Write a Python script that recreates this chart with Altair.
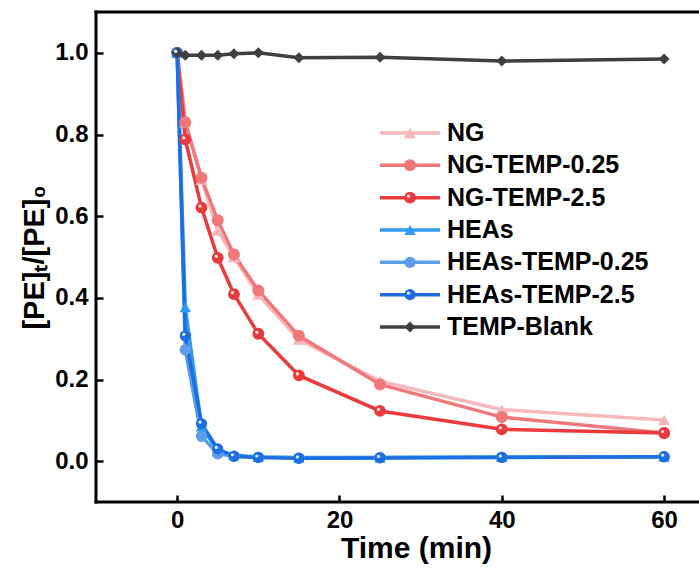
import altair as alt
import pandas as pd

# ---------------- data ----------------
time_min = [0, 1, 3, 5, 7, 10, 15, 25, 40, 60]
series_names = ["NG", "NG-TEMP-0.25", "NG-TEMP-2.5", "HEAs",
                "HEAs-TEMP-0.25", "HEAs-TEMP-2.5", "TEMP-Blank"]
ng = [1.0, 0.83, 0.69, 0.565, 0.50, 0.408, 0.298, 0.196, 0.126, 0.101]
ng_temp_025 = [1.0, 0.83, 0.694, 0.590, 0.506, 0.418, 0.307, 0.188, 0.108, 0.069]
ng_temp_25 = [1.0, 0.788, 0.621, 0.498, 0.409, 0.312, 0.210, 0.123, 0.078, 0.069]
heas = [1.0, 0.377, 0.085, 0.025, 0.015, 0.010, 0.009, 0.009, 0.010, 0.011]
heas_temp_025 = [1.0, 0.273, 0.061, 0.018, 0.012, 0.010, 0.008, 0.009, 0.010, 0.011]
heas_temp_25 = [1.0, 0.307, 0.092, 0.030, 0.012, 0.009, 0.007, 0.008, 0.009, 0.011]
temp_blank = [1.0, 0.994, 0.994, 0.994, 0.998, 1.0, 0.988, 0.989, 0.980, 0.985]
series_values = [ng, ng_temp_025, ng_temp_25, heas, heas_temp_025, heas_temp_25, temp_blank]
x_ticks = [0, 20, 40, 60]
y_ticks = [0.0, 0.2, 0.4, 0.6, 0.8, 1.0]
highlighted = ["NG-TEMP-2.5", "HEAs-TEMP-2.5"]

# ---------------- styles ----------------
colors = ["#F8B8BA", "#F0787A", "#E93B3E", "#2F9BF2", "#5E9DEA", "#1C6FE0", "#3F3F3F"]
shapes = ["triangle-up", "circle", "circle", "triangle-up", "circle", "circle", "diamond"]
sizes = [150, 120, 120, 150, 120, 120, 150]

rows = []
for name, vals in zip(series_names, series_values):
    for t, v in zip(time_min, vals):
        rows.append({"series": name, "time": t, "value": v})
df = pd.DataFrame(rows)

W, H = 603, 490
FONT = "Liberation Sans, Arial, sans-serif"

color_scale = alt.Scale(domain=series_names, range=colors)
shape_scale = alt.Scale(domain=series_names, range=shapes)
size_scale = alt.Scale(domain=series_names, range=sizes)

x_enc = alt.X(
    "time:Q",
    scale=alt.Scale(domain=[-10, 64.3], nice=False, zero=False),
    axis=alt.Axis(values=x_ticks, title="Time (min)", domain=False, grid=False,
                  offset=-7, tickSize=7, tickWidth=2.5, tickColor="black",
                  labelPadding=6, labelFont=FONT, labelFontSize=24,
                  labelFontWeight="bold", labelColor="black",
                  titleFont=FONT, titleFontSize=30, titleFontWeight="bold",
                  titleColor="black", titlePadding=1, titleX=320),
)
y_enc = alt.Y(
    "value:Q",
    scale=alt.Scale(domain=[-0.1, 1.1], nice=False, zero=False),
    axis=alt.Axis(values=y_ticks, format=".1f", title="[PE]ₜ/[PE]₀", domain=False,
                  grid=False, offset=-7, tickSize=7, tickWidth=2.5, tickColor="black",
                  labelPadding=8, labelFont=FONT, labelFontSize=24,
                  labelFontWeight="bold", labelColor="black",
                  titleFont=FONT, titleFontSize=29, titleFontWeight="bold",
                  titleColor="black", titlePadding=5),
)
color_enc = alt.Color("series:N", scale=color_scale, legend=None)
shape_enc = alt.Shape("series:N", scale=shape_scale, legend=None)
size_enc = alt.Size("series:N", scale=size_scale, legend=None)

base = alt.Chart(df).encode(x=x_enc, y=y_enc, color=color_enc)
lines = base.mark_line(strokeWidth=3.5)
points = base.mark_point(filled=True, opacity=1).encode(shape=shape_enc, size=size_enc)
hl = base.transform_filter(
    alt.FieldOneOfPredicate(field="series", oneOf=highlighted)
).mark_point(filled=True, opacity=0.9, size=10, xOffset=-1.5, yOffset=-1.5).encode(
    color=alt.value("white"))

frame_df = pd.DataFrame({"k": [0]})
frame_top = alt.Chart(frame_df).mark_rule(color="black", strokeWidth=3, strokeCap="square").encode(
    x=alt.value(0), x2=alt.value(W), y=alt.value(0))
frame_left = alt.Chart(frame_df).mark_rule(color="black", strokeWidth=3, strokeCap="square").encode(
    x=alt.value(0), y=alt.value(0), y2=alt.value(H))
frame_bottom = alt.Chart(frame_df).mark_rule(color="black", strokeWidth=3, strokeCap="square").encode(
    x=alt.value(0), x2=alt.value(W), y=alt.value(H))

main = alt.layer(lines, points, hl, frame_top, frame_left, frame_bottom)

# ---------------- custom legend ----------------
leg_df = pd.DataFrame({"series": series_names})
ly = alt.Y("series:N", scale=alt.Scale(type="point", domain=series_names,
                                       range=[121, 315], padding=0), axis=None)
leg_rule = alt.Chart(leg_df).mark_rule(strokeWidth=3.5).encode(
    x=alt.value(284), x2=alt.value(344), y=ly, color=color_enc)
leg_pts = alt.Chart(leg_df).mark_point(filled=True, opacity=1).encode(
    x=alt.value(314), y=ly, color=color_enc, shape=shape_enc, size=size_enc)
leg_hl = alt.Chart(leg_df).transform_filter(
    alt.FieldOneOfPredicate(field="series", oneOf=highlighted)
).mark_point(filled=True, opacity=0.9, size=10, xOffset=-1.5, yOffset=-1.5).encode(
    x=alt.value(314), y=ly, color=alt.value("white"))
leg_txt = alt.Chart(leg_df).mark_text(
    align="left", baseline="middle", font=FONT, fontSize=25, fontWeight="bold",
    color="black").encode(x=alt.value(351), y=ly, text="series:N")
legend = alt.layer(leg_rule, leg_pts, leg_hl, leg_txt)

chart = alt.layer(main, legend).resolve_scale(y="independent").properties(
    width=W, height=H,
    padding={"left": 96, "top": 12, "right": 0, "bottom": 69},
    autosize=alt.AutoSizeParams(type="none"),
).configure_view(strokeWidth=0).configure(background="white")

chart.save("out.html", embed_options={"renderer": "svg", "actions": False})
